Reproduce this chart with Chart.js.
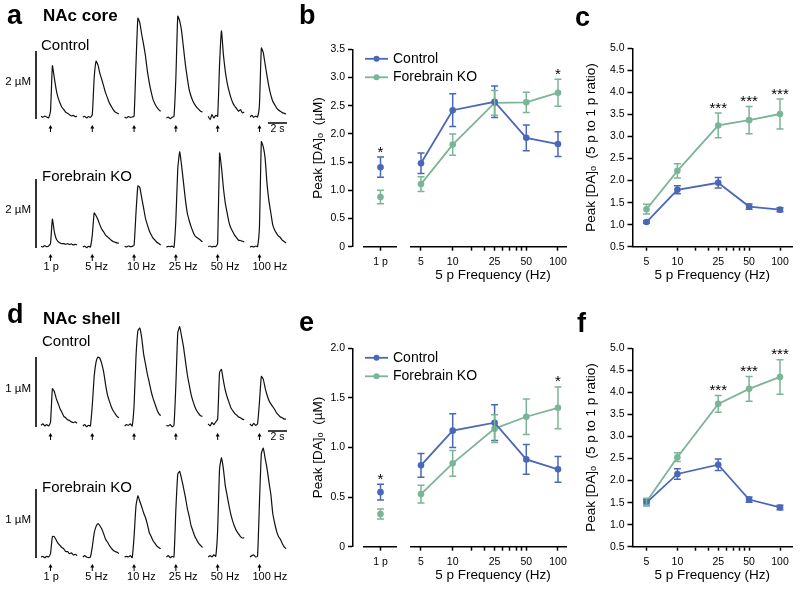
<!DOCTYPE html>
<html>
<head>
<meta charset="utf-8">
<script src="https://cdn.jsdelivr.net/npm/chart.js@4.4.0/dist/chart.umd.min.js"></script>
<style>
  body { margin:0; width:800px; height:591px; background:#fff; position:relative; overflow:hidden;
         font-family:"Liberation Sans", Arial, Helvetica, sans-serif; color:#000; }
  canvas { position:absolute; z-index:1; }
  .t { position:absolute; white-space:nowrap; line-height:1; z-index:2; }
  .letter { font-weight:bold; font-size:27px; }
  .head { font-weight:bold; font-size:17px; }
  .grp { font-size:15px; }
</style>
</head>
<body>
<div class="t letter" style="left:7px;top:2px">a</div>
<div class="t head" style="left:43px;top:7px">NAc core</div>
<div class="t grp" style="left:41px;top:37px">Control</div>
<div class="t grp" style="left:42px;top:168px">Forebrain KO</div>
<div class="t letter" style="left:299px;top:2px">b</div>
<div class="t letter" style="left:575px;top:4px">c</div>
<div class="t letter" style="left:7px;top:301px">d</div>
<div class="t head" style="left:43px;top:310px">NAc shell</div>
<div class="t grp" style="left:42px;top:333px">Control</div>
<div class="t grp" style="left:42px;top:479px">Forebrain KO</div>
<div class="t letter" style="left:299px;top:309px">e</div>
<div class="t letter" style="left:577px;top:310px">f</div>

<canvas id="coreCtrl"></canvas>
<canvas id="coreKo"></canvas>
<canvas id="shellCtrl"></canvas>
<canvas id="shellKo"></canvas>
<canvas id="chartB" width="290" height="260" style="left:300px;top:30px"></canvas>
<canvas id="chartC" width="225" height="260" style="left:575px;top:30px"></canvas>
<canvas id="chartE" width="290" height="260" style="left:300px;top:330px"></canvas>
<canvas id="chartF" width="225" height="260" style="left:575px;top:330px"></canvas>

<script>
// ---- data ----
const STIM_LABELS = ['1 p', '5 Hz', '10 Hz', '25 Hz', '50 Hz', '100 Hz'];
const FREQ = [5, 10, 25, 50, 100];
const FREQ_TICKS = [5, 10, 15, 20, 25, 30, 35, 40, 45, 50, 100];
const PULSE = ['1 p'];

// example traces (uM), one sample every 0.2 s
const CORE_CTRL = [
  [0.05,0.02,0.06,0.03,0.0,0.2,1.56,1.2,0.85,0.6,0.45,0.32,0.25,0.17,0.14,0.1,0.06,0.08,0.04,0.05],
  [0.03,0.05,0.0,0.04,0.02,0.1,1.2,1.7,1.58,1.33,1.15,0.95,0.75,0.6,0.45,0.35,0.25,0.18,0.15,0.12],
  [0.03,0.0,0.04,0.02,0.03,0.05,1.6,2.98,2.85,2.5,2.2,1.85,1.4,1.05,0.78,0.55,0.42,0.32,0.25,0.2],
  [0.0,0.03,-0.02,0.02,0.05,1.2,3.04,2.9,2.6,2.1,1.6,1.2,0.85,0.65,0.5,0.4,0.32,0.26,0.2,0.18],
  [0.05,-0.05,0.1,0.0,0.08,0.05,1.6,2.6,1.9,1.4,1.05,0.8,0.6,0.45,0.35,0.28,0.2,0.25,0.15,0.18],
  [0.03,0.08,0.02,0.06,0.03,0.4,2.09,1.95,1.6,1.25,0.93,0.68,0.5,0.4,0.3,0.24,0.2,0.16,0.14,0.12]
];
const CORE_KO = [
  [0.02,0.0,0.04,0.01,0.03,0.1,0.82,0.45,0.24,0.16,0.12,0.1,0.1,0.08,0.1,0.07,0.09,0.06,0.08,0.06],
  [0.0,0.03,-0.02,0.02,0.0,0.35,1.0,0.92,0.8,0.65,0.52,0.44,0.35,0.3,0.25,0.2,0.16,0.14,0.12,0.11],
  [0.02,0.0,0.03,0.01,0.02,0.05,1.0,1.8,1.75,1.45,1.15,0.84,0.65,0.48,0.36,0.26,0.2,0.14,0.1,0.06],
  [0.0,0.02,0.01,0.03,-0.01,0.8,2.3,2.8,2.4,1.9,1.4,1.0,0.78,0.6,0.45,0.33,0.28,0.24,0.2,0.15],
  [0.01,0.03,0.0,0.02,0.01,0.1,2.76,2.35,1.75,1.3,1.0,0.72,0.55,0.45,0.34,0.27,0.2,0.19,0.17,0.15],
  [0.0,0.02,0.0,0.03,0.01,0.6,3.1,2.95,2.6,1.85,1.35,1.0,0.65,0.5,0.4,0.32,0.28,0.2,0.16,0.12]
];
const SHELL_CTRL = [
  [0.01,0.03,0.0,0.02,0.0,0.05,0.54,0.5,0.4,0.33,0.25,0.2,0.14,0.12,0.09,0.08,0.06,0.05,0.06,0.04],
  [0.0,0.02,-0.01,0.01,0.0,0.3,0.72,0.93,1.0,0.98,0.9,0.78,0.6,0.45,0.36,0.28,0.22,0.18,0.14,0.12],
  [0.0,0.02,0.01,0.03,0.0,0.3,1.0,1.38,1.42,1.28,1.05,0.9,0.75,0.63,0.5,0.4,0.32,0.24,0.18,0.15],
  [0.01,0.0,0.02,-0.01,0.01,0.6,1.35,1.44,1.3,1.15,0.95,0.75,0.6,0.46,0.36,0.28,0.22,0.18,0.15,0.14],
  [0.03,0.0,0.05,0.02,0.06,0.1,0.78,0.82,0.66,0.52,0.42,0.34,0.26,0.22,0.18,0.16,0.13,0.12,0.1,0.09],
  [0.03,0.0,0.04,0.01,0.03,0.35,0.72,0.68,0.55,0.45,0.37,0.32,0.28,0.24,0.19,0.16,0.13,0.12,0.1,0.1]
];
const SHELL_KO = [
  [0.0,0.01,-0.01,0.01,0.0,0.05,0.3,0.3,0.25,0.2,0.17,0.14,0.12,0.08,0.08,0.05,0.06,0.03,0.04,0.02],
  [0.0,0.02,0.0,-0.01,0.0,0.15,0.35,0.45,0.49,0.46,0.41,0.34,0.26,0.22,0.17,0.13,0.1,0.08,0.07,0.05],
  [0.0,0.01,0.0,0.02,-0.01,0.3,0.75,0.9,0.82,0.74,0.65,0.58,0.48,0.36,0.3,0.24,0.2,0.16,0.14,0.12],
  [0.0,0.02,-0.01,0.01,0.0,0.7,1.22,1.26,1.15,1.02,0.88,0.72,0.6,0.46,0.38,0.3,0.25,0.2,0.17,0.14],
  [0.0,0.02,0.0,0.03,0.01,0.4,1.3,1.46,1.3,1.05,0.9,0.75,0.62,0.52,0.44,0.38,0.34,0.3,0.28,0.28],
  [0.0,0.02,0.03,0.0,0.01,0.8,1.52,1.6,1.45,1.3,1.1,0.92,0.64,0.5,0.38,0.3,0.26,0.2,0.15,0.12]
];

// b: NAc core peak [DA]o (uM)
const CTRL_B_1P = [1.41], CTRL_B_1P_SEM = [0.18];
const KO_B_1P = [0.88],   KO_B_1P_SEM = [0.12];
const CTRL_B = [1.48, 2.42, 2.57, 1.93, 1.82], CTRL_B_SEM = [0.18, 0.29, 0.28, 0.23, 0.22];
const KO_B = [1.11, 1.81, 2.55, 2.56, 2.73],   KO_B_SEM = [0.13, 0.19, 0.22, 0.18, 0.24];
const STARS_B_1P = ['*'], STARS_B = ['', '', '', '', '*'];

// c: NAc core 5 p / 1 p ratio
const CTRL_C = [1.06, 1.79, 1.95, 1.41, 1.34], CTRL_C_SEM = [0.03, 0.09, 0.12, 0.06, 0.045];
const KO_C = [1.35, 2.22, 3.25, 3.37, 3.51],   KO_C_SEM = [0.11, 0.16, 0.28, 0.31, 0.34];
const STARS_C = ['', '', '***', '***', '***'];

// e: NAc shell peak [DA]o (uM)
const CTRL_E_1P = [0.55], CTRL_E_1P_SEM = [0.08];
const KO_E_1P = [0.33],   KO_E_1P_SEM = [0.05];
const CTRL_E = [0.82, 1.17, 1.25, 0.88, 0.78], CTRL_E_SEM = [0.12, 0.17, 0.18, 0.15, 0.13];
const KO_E = [0.53, 0.84, 1.19, 1.31, 1.40],   KO_E_SEM = [0.09, 0.13, 0.14, 0.18, 0.21];
const STARS_E_1P = ['*'], STARS_E = ['', '', '', '', '*'];

// f: NAc shell 5 p / 1 p ratio
const CTRL_F = [1.50, 2.15, 2.36, 1.57, 1.39], CTRL_F_SEM = [0.07, 0.12, 0.13, 0.06, 0.05];
const KO_F = [1.52, 2.53, 3.74, 4.08, 4.35],   KO_F_SEM = [0.08, 0.10, 0.19, 0.28, 0.39];
const STARS_F = ['', '', '***', '***', '***'];

// ---- style ----
const BLUE = '#4a68b8';
const GREEN = '#7ab597';
const FONT = '"Liberation Sans", Arial, Helvetica, sans-serif';
Chart.defaults.font.family = FONT;
Chart.defaults.color = '#000';

const DT = 0.2;      // s per sample
const GAP = 4.4;     // s between trace starts
const STIM_T = 1.0;  // stimulus time inside each trace

// ---- trace rows (a, d) ----
function traceDecor(barValue, barLabel, showLabels, showTime) {
  return {
    id: 'traceDecor',
    afterDraw(chart) {
      const {ctx, chartArea, scales: {x, y}} = chart;
      const y0 = y.getPixelForValue(0);
      const yb = y.getPixelForValue(barValue);
      ctx.save();
      ctx.strokeStyle = '#000';
      ctx.fillStyle = '#000';
      // concentration scale bar
      const bx = chartArea.left - 5;
      ctx.lineWidth = 1.6;
      ctx.beginPath(); ctx.moveTo(bx, y0 + 1); ctx.lineTo(bx, yb); ctx.stroke();
      ctx.font = '11.5px ' + FONT;
      ctx.textAlign = 'right'; ctx.textBaseline = 'middle';
      ctx.fillText(barLabel, bx - 5, (y0 + yb) / 2 - 3);
      // stimulus arrows
      STIM_LABELS.forEach((lab, i) => {
        const ax = x.getPixelForValue(i * GAP + STIM_T);
        ctx.lineWidth = 1;
        ctx.beginPath(); ctx.moveTo(ax, y0 + 9); ctx.lineTo(ax, y0 + 14); ctx.stroke();
        ctx.beginPath(); ctx.moveTo(ax, y0 + 7); ctx.lineTo(ax - 2, y0 + 10.5); ctx.lineTo(ax + 2, y0 + 10.5);
        ctx.closePath(); ctx.fill();
        if (showLabels) {
          ctx.font = '11px ' + FONT;
          ctx.textAlign = 'left'; ctx.textBaseline = 'middle';
          ctx.fillText(lab, ax - 7, y0 + 20);
        }
      });
      // time scale bar
      if (showTime) {
        const x1 = x.getPixelForValue(x.max - 2), x2 = x.getPixelForValue(x.max);
        ctx.lineWidth = 1.5;
        ctx.beginPath(); ctx.moveTo(x1, y0 + 5); ctx.lineTo(x2, y0 + 5); ctx.stroke();
        ctx.font = '10.5px ' + FONT;
        ctx.textAlign = 'center'; ctx.textBaseline = 'middle';
        ctx.fillText('2 s', (x1 + x2) / 2, y0 + 11);
      }
      ctx.restore();
    }
  };
}

function traceRow(id, traces, zeroY, pxPerUnit, barValue, barLabel, showLabels, showTime) {
  const cv = document.getElementById(id);
  const above = 118, h = 160;
  cv.width = 300; cv.height = h;
  cv.style.left = '0px';
  cv.style.top = (zeroY - above) + 'px';
  new Chart(cv, {
    type: 'line',
    data: {
      datasets: traces.map((tr, i) => ({
        data: tr.map((v, k) => ({x: i * GAP + k * DT, y: v})),
        borderColor: '#111', borderWidth: 1.2, pointRadius: 0, tension: 0.15, clip: false
      }))
    },
    options: {
      responsive: false, animation: false, events: [],
      layout: {padding: {left: 41, right: 13, top: 0, bottom: 0}},
      plugins: {legend: {display: false}, tooltip: {enabled: false}},
      scales: {
        x: {type: 'linear', display: false, min: 0, max: 25.9},
        y: {display: false, min: -(h - above) / pxPerUnit, max: above / pxPerUnit}
      }
    },
    plugins: [traceDecor(barValue, barLabel, showLabels, showTime)]
  });
}

traceRow('coreCtrl', CORE_CTRL, 118, 33.5, 2, '2 \u00b5M', false, true);
traceRow('coreKo', CORE_KO, 247, 34, 2, '2 \u00b5M', true, false);
traceRow('shellCtrl', SHELL_CTRL, 426, 69, 1, '1 \u00b5M', false, true);
traceRow('shellKo', SHELL_KO, 557, 68, 1, '1 \u00b5M', true, false);

// ---- summary plots (b, c, e, f) ----
const errorBars = {
  id: 'errorBars',
  afterDatasetsDraw(chart) {
    const {ctx} = chart;
    const ys = chart.scales.y;
    chart.data.datasets.forEach((d, i) => {
      const meta = chart.getDatasetMeta(i);
      ctx.save();
      ctx.strokeStyle = d.borderColor;
      ctx.lineWidth = 1.5;
      meta.data.forEach((pt, k) => {
        const v = d.data[k].y, e = d.sem[k];
        const yt = ys.getPixelForValue(v + e), yb = ys.getPixelForValue(v - e);
        ctx.beginPath();
        ctx.moveTo(pt.x, yt); ctx.lineTo(pt.x, yb);
        ctx.moveTo(pt.x - 3.5, yt); ctx.lineTo(pt.x + 3.5, yt);
        ctx.moveTo(pt.x - 3.5, yb); ctx.lineTo(pt.x + 3.5, yb);
        ctx.stroke();
      });
      ctx.restore();
    });
  }
};

function starMarks(marks) {
  return {
    id: 'starMarks',
    afterDatasetsDraw(chart) {
      const {ctx} = chart;
      const ys = chart.scales.y;
      ctx.save();
      ctx.fillStyle = '#000';
      ctx.font = '15px ' + FONT;
      ctx.textAlign = 'center'; ctx.textBaseline = 'alphabetic';
      Object.keys(marks).forEach(axis => {
        marks[axis].forEach((m, k) => {
          if (!m) return;
          let top = -Infinity, px = 0;
          chart.data.datasets.forEach((d, i) => {
            if (d.xAxisID !== axis) return;
            top = Math.max(top, d.data[k].y + d.sem[k]);
            px = chart.getDatasetMeta(i).data[k].x;
          });
          ctx.fillText(m, px, ys.getPixelForValue(top) - 0.5);
        });
      });
      ctx.restore();
    }
  };
}

const seriesLegend = {
  id: 'seriesLegend',
  afterDraw(chart) {
    const {ctx, chartArea} = chart;
    const items = chart.data.datasets.filter(d => d.label);
    ctx.save();
    items.forEach((d, i) => {
      const y = chartArea.top + 9.5 + i * 18.5;
      const x0 = chartArea.left + 12;
      ctx.strokeStyle = d.borderColor; ctx.lineWidth = 1.8;
      ctx.beginPath(); ctx.moveTo(x0, y); ctx.lineTo(x0 + 23, y); ctx.stroke();
      ctx.fillStyle = d.borderColor;
      ctx.beginPath(); ctx.arc(x0 + 11.5, y, 3, 0, Math.PI * 2); ctx.fill();
      ctx.fillStyle = '#000';
      ctx.font = '14px ' + FONT;
      ctx.textAlign = 'left'; ctx.textBaseline = 'middle';
      ctx.fillText(d.label, x0 + 28, y);
    });
    ctx.restore();
  }
};

const splitAxis = {
  id: 'splitAxis',
  afterDraw(chart) {
    const {ctx, chartArea, scales: {xp, xf}} = chart;
    ctx.save();
    ctx.strokeStyle = '#000'; ctx.lineWidth = 1.5;
    ctx.beginPath();
    ctx.moveTo(xp.left + 10, chartArea.bottom); ctx.lineTo(xp.right - 11, chartArea.bottom);
    ctx.moveTo(xf.left + 2, chartArea.bottom); ctx.lineTo(xf.right - 11, chartArea.bottom);
    ctx.stroke();
    ctx.restore();
  }
};

function series(label, color, xs, ys, sem, axis, line) {
  return {
    label, sem, xAxisID: axis, yAxisID: 'y',
    data: xs.map((x, i) => ({x, y: ys[i]})),
    borderColor: color, backgroundColor: color, pointBackgroundColor: color,
    borderWidth: 1.8, pointRadius: 3.3, pointBorderWidth: 0, showLine: line, tension: 0, clip: false
  };
}

function yAxis(min, max, title, width, titlePad) {
  return {
    min, max,
    ticks: {stepSize: 0.5, padding: 3, font: {size: 10.5}, callback: v => v === 0 ? '0' : v.toFixed(1)},
    grid: {drawOnChartArea: false, tickLength: 5, tickColor: '#000', tickWidth: 1.5},
    border: {color: '#000', width: 1.5},
    title: {display: true, text: title, font: {size: 13.5}, padding: {top: titlePad, bottom: 0}},
    afterFit: s => { s.width = width; }
  };
}

function freqAxis(min, max, extra) {
  return Object.assign({
    type: 'logarithmic', position: 'bottom', min, max,
    afterBuildTicks: s => { s.ticks = FREQ_TICKS.map(v => ({value: v})); },
    ticks: {autoSkip: false, maxRotation: 0, padding: 5, font: {size: 10.5},
            callback: v => FREQ.includes(v) ? String(v) : ''},
    grid: {drawOnChartArea: false, tickLength: 4, tickColor: '#000', tickWidth: 1.5},
    border: {color: '#000', width: 1.5},
    title: {display: true, text: '5 p Frequency (Hz)', font: {size: 13.5}, padding: {top: 0, bottom: 2}},
    afterFit: s => { s.height = 39; }
  }, extra);
}

const BASE_OPTS = {responsive: false, animation: false, events: [],
                   plugins: {legend: {display: false}, tooltip: {enabled: false}}};

function peakChart(id, yMax, padTop, c) {
  new Chart(document.getElementById(id), {
    type: 'line',
    data: {
      datasets: [
        series('Control', BLUE, FREQ, c.ctrl, c.ctrlSem, 'xf', true),
        series('Forebrain KO', GREEN, FREQ, c.ko, c.koSem, 'xf', true),
        series(undefined, BLUE, PULSE, c.ctrl1p, c.ctrl1pSem, 'xp', false),
        series(undefined, GREEN, PULSE, c.ko1p, c.ko1pSem, 'xp', false)
      ]
    },
    options: Object.assign({}, BASE_OPTS, {
      layout: {padding: {left: 0, top: padTop, right: 12, bottom: 4.3}},
      scales: {
        xp: {type: 'category', labels: PULSE, offset: true, position: 'bottom', stack: 'bx', stackWeight: 55,
             ticks: {padding: 5, font: {size: 10.5}},
             grid: {drawOnChartArea: false, tickLength: 4, tickColor: '#000', tickWidth: 1.5},
             border: {display: false},
             afterFit: s => { s.height = 39; }},
        xf: freqAxis(3.763, 154.9, {stack: 'bx', stackWeight: 170, border: {display: false}}),
        y: yAxis(0, yMax, 'Peak [DA]\u2092  (\u00b5M)', 53, 9.8)
      }
    }),
    plugins: [errorBars, starMarks({xp: c.stars1p, xf: c.stars}), seriesLegend, splitAxis]
  });
}

function ratioChart(id, padTop, c) {
  new Chart(document.getElementById(id), {
    type: 'line',
    data: {
      datasets: [
        series('Control', BLUE, FREQ, c.ctrl, c.ctrlSem, 'x', true),
        series('Forebrain KO', GREEN, FREQ, c.ko, c.koSem, 'x', true)
      ]
    },
    options: Object.assign({}, BASE_OPTS, {
      layout: {padding: {left: 0, top: padTop, right: 8, bottom: 4.3}},
      scales: {
        x: freqAxis(3.652, 130.9, {}),
        y: yAxis(0.5, 5, 'Peak [DA]\u2092  (5 p to 1 p ratio)', 57.5, 8.5)
      }
    }),
    plugins: [errorBars, starMarks({x: c.stars})]
  });
}

peakChart('chartB', 3.5, 19.3, {
  ctrl: CTRL_B, ctrlSem: CTRL_B_SEM, ko: KO_B, koSem: KO_B_SEM,
  ctrl1p: CTRL_B_1P, ctrl1pSem: CTRL_B_1P_SEM, ko1p: KO_B_1P, ko1pSem: KO_B_1P_SEM,
  stars1p: STARS_B_1P, stars: STARS_B
});
ratioChart('chartC', 18.3, {ctrl: CTRL_C, ctrlSem: CTRL_C_SEM, ko: KO_C, koSem: KO_C_SEM, stars: STARS_C});
peakChart('chartE', 2.0, 18.3, {
  ctrl: CTRL_E, ctrlSem: CTRL_E_SEM, ko: KO_E, koSem: KO_E_SEM,
  ctrl1p: CTRL_E_1P, ctrl1pSem: CTRL_E_1P_SEM, ko1p: KO_E_1P, ko1pSem: KO_E_1P_SEM,
  stars1p: STARS_E_1P, stars: STARS_E
});
ratioChart('chartF', 18.3, {ctrl: CTRL_F, ctrlSem: CTRL_F_SEM, ko: KO_F, koSem: KO_F_SEM, stars: STARS_F});
</script>
</body>
</html>
